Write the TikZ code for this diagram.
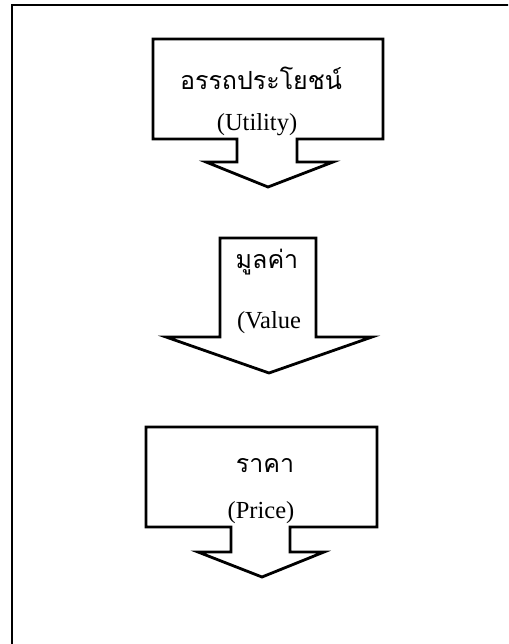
\documentclass[tikz,border=0pt]{standalone}
\usepackage{fontspec}
\setmainfont{Liberation Serif}
\newfontfamily\thaifont[Script=Thai]{Loma}
\usepackage{tikz}
\usetikzlibrary{positioning}

\begin{document}
\begin{tikzpicture}[x=1pt, y=-1pt,
    callout/.style={draw=black, line width=2.8pt, fill=white, line join=miter},
    thlabel/.style={anchor=base, inner sep=0pt, font=\thaifont\fontsize{25}{27}\selectfont},
    enlabel/.style={anchor=base, inner sep=0pt, font=\fontsize{24.5}{26}\selectfont}
]
\useasboundingbox (0,0) rectangle (508,644);
\clip (0,0) rectangle (508,644);
\fill[white] (0,0) rectangle (508,644);
\draw[line width=1.8pt] (12,5) rectangle (530,670);

\draw[callout] (153,39) -- (383,39) -- (383,139) -- (297,139) -- (297,162) -- (333,162)
    -- (268,187) -- (206,162) -- (237,162) -- (237,139) -- (153,139) -- cycle;
\node[thlabel] (utility) at (261,90) {อรรถประโยชน์};
\node[enlabel] (utilityEn) at (257,131) {(Utility)};

\draw[callout] (220,238) -- (316,238) -- (316,337) -- (372,337) -- (269,373)
    -- (166,337) -- (220,337) -- cycle;
\node[thlabel] (value) at (267,268) {มูลค่า};
\node[enlabel] (valueEn) at (269,328) {(Value};

\draw[callout] (146,427) -- (377,427) -- (377,527) -- (290,527) -- (290,552) -- (324,552)
    -- (262,577) -- (198,552) -- (231,552) -- (231,527) -- (146,527) -- cycle;
\node[thlabel] (price) at (265,472) {ราคา};
\node[enlabel] (priceEn) at (261,518) {(Price)};

\end{tikzpicture}
\end{document}
